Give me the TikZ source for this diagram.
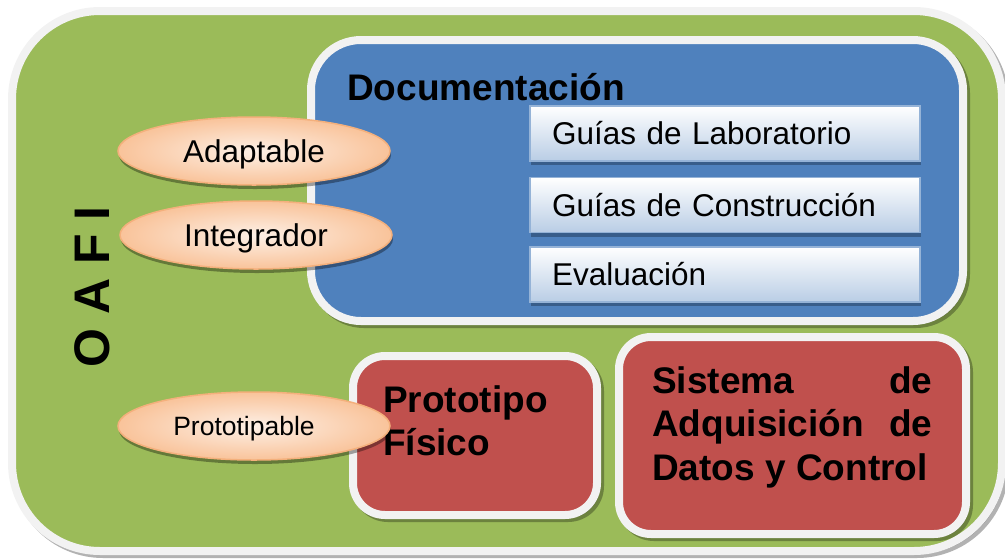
\documentclass[tikz,border=0pt]{standalone}
\usepackage{fontspec}
\setmainfont{Liberation Sans}
\usetikzlibrary{shapes.geometric, positioning}

\definecolor{oafigreen}{HTML}{9BBB59}
\definecolor{docblue}{HTML}{4F81BD}
\definecolor{partred}{HTML}{C0504D}
\definecolor{framegray}{HTML}{F2F2F2}
\definecolor{guidetop}{HTML}{FFFFFF}
\definecolor{guidebottom}{HTML}{B9CDE5}
\definecolor{guideline}{HTML}{95B3D7}
\definecolor{guideshadow}{HTML}{385D8A}
\definecolor{peachin}{HTML}{FDF0E6}
\definecolor{peachout}{HTML}{F9C39A}
\definecolor{peachline}{HTML}{F4B07C}

\begin{document}
\begin{tikzpicture}[x=1pt, y=-1pt,
    frame/.style={draw=framegray, line width=8pt, rounded corners=#1,
        inner sep=0pt,
        preaction={fill=black, draw=black, opacity=0.3,
            transform canvas={shift={(3pt,-3pt)}}}},
    guide/.style={rectangle, draw=guideline, line width=1.5pt,
        top color=guidetop, bottom color=guidebottom,
        minimum width=390pt, minimum height=55pt,
        text width=346pt, inner xsep=22pt, align=left,
        text height=22pt, text depth=0pt,
        font=\fontsize{31.5}{37}\selectfont,
        preaction={fill=guideshadow, transform canvas={shift={(1pt,-4pt)}}}},
    trait/.style={ellipse, draw=peachline, line width=1.5pt,
        inner color=peachin, outer color=peachout,
        minimum width=272pt, minimum height=68pt, inner sep=0pt,
        text depth=0pt,
        preaction={fill=black, opacity=0.35,
            transform canvas={shift={(1pt,-4pt)}}}},
    heading/.style={font=\bfseries\fontsize{37}{43.5}\selectfont,
        inner sep=0pt, align=left}]

    \useasboundingbox (0,0) rectangle (1005,558);

    % outer OAFI frame
    \node[frame=88pt, fill=oafigreen, minimum width=990pt,
        minimum height=540pt] (oafi) at (507,281) {};
    \node[font=\bfseries\fontsize{50}{60}\selectfont, rotate=90,
        inner sep=0pt] (oafilabel) at (92,287) {O A F I};

    % documentation block
    \node[frame=50pt, fill=docblue, minimum width=652pt,
        minimum height=281pt] (doc) at (637,180.5) {};
    \node[font=\bfseries\fontsize{37}{44}\selectfont, anchor=base west,
        inner sep=0pt] (doctitle) at (347,100) {Documentación};
    \node[guide] (lab) at (725,133.5) {Guías de Laboratorio};
    \node[guide, below=15pt of lab] (build) {Guías de Construcción};
    \node[guide, below=13pt of build] (eval) {Evaluación};

    % physical prototype and acquisition system
    \node[frame=32pt, fill=partred, minimum width=244pt,
        minimum height=159pt] (proto) at (475,435.5) {};
    \node[heading, anchor=north west] (prototext) at (383,385)
        {Prototipo\\Físico};
    \node[frame=32pt, fill=partred, minimum width=347pt,
        minimum height=197pt] (daq) at (792.5,435.5) {};
    \node[heading, anchor=north west] (daqtext) at (652,366)
        {\makebox[280pt]{Sistema\hfill de}\\
         \makebox[280pt]{Adquisición\hfill de}\\
         Datos y Control};

    % qualities
    \node[trait, text height=22pt, font=\fontsize{31.5}{37}\selectfont]
        (adapt) at (254,151) {Adaptable};
    \node[trait, text height=22pt, font=\fontsize{31.5}{37}\selectfont]
        (integ) at (256,235) {Integrador};
    \node[trait, text height=18pt, font=\fontsize{26.5}{32}\selectfont]
        (protoable) at (254,426) {\hspace*{-20pt}Prototipable};
\end{tikzpicture}
\end{document}
